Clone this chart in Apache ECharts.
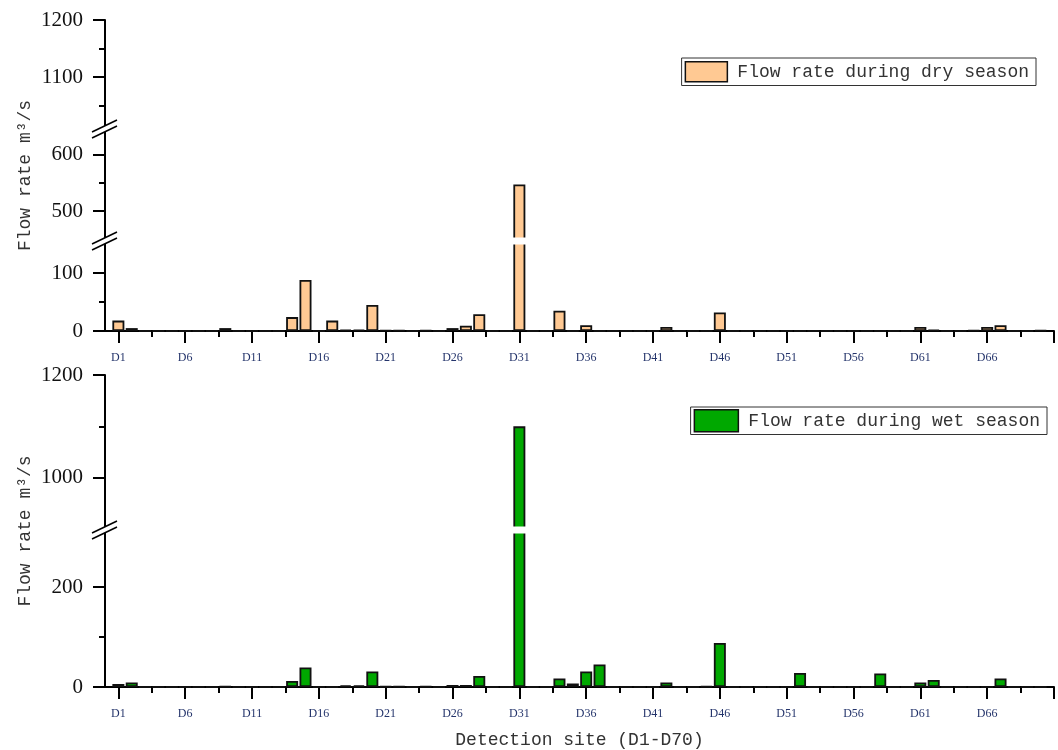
<!DOCTYPE html>
<html>
<head>
<meta charset="utf-8">
<script src="https://cdn.jsdelivr.net/npm/echarts@6/dist/echarts.min.js"></script>
<style>html,body{margin:0;padding:0;background:#fff}#chart{width:1058px;height:750px}</style>
</head>
<body>
<div id="chart"></div>
<script>
// ---------- data ----------
const sites = ['D1','D2','D3','D4','D5','D6','D7','D8','D9','D10',
  'D11','D12','D13','D14','D15','D16','D17','D18','D19','D20',
  'D21','D22','D23','D24','D25','D26','D27','D28','D29','D30',
  'D31','D32','D33','D34','D35','D36','D37','D38','D39','D40',
  'D41','D42','D43','D44','D45','D46','D47','D48','D49','D50',
  'D51','D52','D53','D54','D55','D56','D57','D58','D59','D60',
  'D61','D62','D63','D64','D65','D66','D67','D68','D69','D70'];

const dryName = 'Flow rate during dry season';
const wetName = 'Flow rate during wet season';

const dryFlow = [18,5,0,0,0,0,0,0,5,0,
  0,0,0,24,88,0,18,2,2,45,
  1,1,0,1,0,5,9,29,0,0,
  547,0,0,35,0,10,0,0,0,0,
  0,7,0,0,0,32,0,0,0,0,
  0,0,0,0,0,0,0,0,0,0,
  7,2,0,0,1,7,10,0,0,1];

const wetFlow = [6,9,0,0,0,0,0,0,1,0,
  0,0,0,12,39,0,0,3,3,31,
  1,1,0,1,0,4,4,22,0,0,
  1100,0,0,17,7,31,45,0,0,0,
  0,9,0,0,1,88,0,0,0,0,
  0,28,0,0,0,0,0,27,0,0,
  9,14,0,0,0,0,17,0,0,0];

// x ticks (site positions)
const xMajorTicks = [1,6,11,16,21,26,31,36,41,46,51,56,61,66,71];
const xLabelTicks = [1,6,11,16,21,26,31,36,41,46,51,56,61,66];
const xMinorTicks = [3.5,8.5,13.5,18.5,23.5,28.5,33.5,38.5,43.5,48.5,53.5,58.5,63.5,68.5];

// y ticks per broken-axis segment
const dryHighTicks = [1100,1200], dryHighMinor = [1050,1150];
const dryMidTicks = [500,600],    dryMidMinor = [550];
const dryLowTicks = [0,100],      dryLowMinor = [50];
const wetHighTicks = [1000,1200], wetHighMinor = [1100];
const wetLowTicks = [0,200],      wetLowMinor = [100];

// ---------- layout ----------
const LEFT = 105, RIGHT = 4;
const segments = [
  {vals: dryFlow, name: dryName, color: '#FFC993', top: 20,  height: 107, min: 1013, max: 1200, major: dryHighTicks, minor: dryHighMinor, showX: false},
  {vals: dryFlow, name: dryName, color: '#FFC993', top: 131, height: 108, min: 451,  max: 641,  major: dryMidTicks,  minor: dryMidMinor,  showX: false},
  {vals: dryFlow, name: dryName, color: '#FFC993', top: 243, height: 88,  min: 0,    max: 152,  major: dryLowTicks,  minor: dryLowMinor,  showX: true},
  {vals: wetFlow, name: wetName, color: '#00A800', top: 375, height: 153, min: 902,  max: 1200, major: wetHighTicks, minor: wetHighMinor, showX: false},
  {vals: wetFlow, name: wetName, color: '#00A800', top: 532, height: 155, min: 0,    max: 310,  major: wetLowTicks,  minor: wetLowMinor,  showX: true, xName: true}
];

const black = {color: '#000', width: 2};
const monoFont = 'Liberation Mono';
const grids = [], xAxes = [], yAxes = [], series = [];

segments.forEach((s, i) => {
  grids.push({left: LEFT, right: RIGHT, top: s.top, height: s.height, outerBoundsMode: 'none', containLabel: false});
  xAxes.push({
    type: 'value', gridIndex: i, min: 0, max: 71,
    name: s.xName ? 'Detection site (D1-D70)' : '',
    nameLocation: 'middle', nameGap: 44, nameMoveOverlap: false,
    nameTextStyle: {fontFamily: monoFont, fontSize: 18, color: '#333'},
    axisLine: {show: s.showX, onZero: false, lineStyle: black},
    axisTick: {show: s.showX, length: 12, lineStyle: black, customValues: xMajorTicks},
    axisLabel: {show: s.showX, customValues: xLabelTicks, margin: 21,
      formatter: v => sites[Math.round(v) - 1],
      fontFamily: 'Liberation Serif', fontSize: 12, color: '#24346b'},
    splitLine: {show: false}
  });
  xAxes.push({
    type: 'value', gridIndex: i, min: 0, max: 71, position: 'bottom',
    axisLine: {show: false, onZero: false},
    axisTick: {show: s.showX, length: 6, lineStyle: black, customValues: xMinorTicks},
    axisLabel: {show: false}, splitLine: {show: false}
  });
  yAxes.push({
    type: 'value', gridIndex: i, min: s.min, max: s.max, position: 'left',
    axisLine: {show: true, lineStyle: black},
    axisTick: {show: true, length: 12, lineStyle: black, customValues: s.major},
    axisLabel: {customValues: s.major, margin: 22, formatter: v => String(v),
      fontFamily: 'Liberation Serif', fontSize: 21, color: '#111'},
    splitLine: {show: false}
  });
  yAxes.push({
    type: 'value', gridIndex: i, min: s.min, max: s.max, position: 'left', offset: 0,
    axisLine: {show: false},
    axisTick: {show: true, length: 6, lineStyle: black, customValues: s.minor},
    axisLabel: {show: false}, splitLine: {show: false}
  });
  series.push({
    type: 'bar', name: s.name, xAxisIndex: 2 * i, yAxisIndex: 2 * i,
    barWidth: 12, clip: true, silent: true, animation: false,
    itemStyle: {color: s.color, borderColor: '#111', borderWidth: 1.8},
    data: s.vals.map((v, k) => [k + 1, v])
  });
});

// full-height overlay grids only carrying the y-axis titles
[[20, 311], [375, 312]].forEach(([top, h]) => {
  const gi = grids.length;
  grids.push({left: LEFT, right: RIGHT, top: top, height: h, outerBoundsMode: 'none'});
  xAxes.push({type: 'value', gridIndex: gi, show: false});
  yAxes.push({
    type: 'value', gridIndex: gi, min: 0, max: 1, position: 'left',
    name: 'Flow rate m³/s', nameLocation: 'middle', nameGap: 71, nameMoveOverlap: false,
    nameTextStyle: {fontFamily: monoFont, fontSize: 18, color: '#333'},
    axisLine: {show: false}, axisTick: {show: false}, axisLabel: {show: false}, splitLine: {show: false}
  });
});

// broken-axis decorations
function breakMark(yc) {
  return {
    type: 'group', x: LEFT, y: yc, z: 120,
    children: [
      {type: 'polygon', shape: {points: [[-13, 3], [12, -9], [12, -3], [-13, 9]]}, style: {fill: '#fff'}, z: 120},
      {type: 'line', shape: {x1: -13, y1: 3, x2: 12, y2: -9}, style: {stroke: '#000', lineWidth: 1.5}, z: 121},
      {type: 'line', shape: {x1: -13, y1: 9, x2: 12, y2: -3}, style: {stroke: '#000', lineWidth: 1.5}, z: 121}
    ]
  };
}
function gapMask(y1, y2) {
  return {type: 'rect', z: 110, shape: {x: LEFT + 2, y: y1, width: 1058 - RIGHT - LEFT - 2, height: y2 - y1}, style: {fill: '#fff'}};
}

const legendBase = {
  orient: 'horizontal', icon: 'rect', selectedMode: false,
  borderColor: '#333', borderWidth: 1, borderRadius: 0, backgroundColor: '#fff',
  textStyle: {fontFamily: monoFont, fontSize: 18, color: '#333', padding: [0, 0, 0, 5]},
  itemStyle: {borderColor: '#111', borderWidth: 1.5}
};

const option = {
  backgroundColor: '#fff',
  animation: false,
  grid: grids,
  xAxis: xAxes,
  yAxis: yAxes,
  legend: [
    Object.assign({}, legendBase, {data: [dryName], right: 22, top: 58, itemWidth: 42, itemHeight: 20, padding: [3, 7, 3, 3]}),
    Object.assign({}, legendBase, {data: [wetName], right: 11, top: 407, itemWidth: 44, itemHeight: 22, padding: [2, 7, 2, 3]})
  ],
  series: series,
  graphic: {elements: [
    gapMask(237.5, 244.5),
    gapMask(526.5, 533.5),
    breakMark(129),
    breakMark(241),
    breakMark(530)
  ]}
};

const chart = echarts.init(document.getElementById('chart'), null, {renderer: 'canvas'});
chart.setOption(option);
</script>
</body>
</html>
